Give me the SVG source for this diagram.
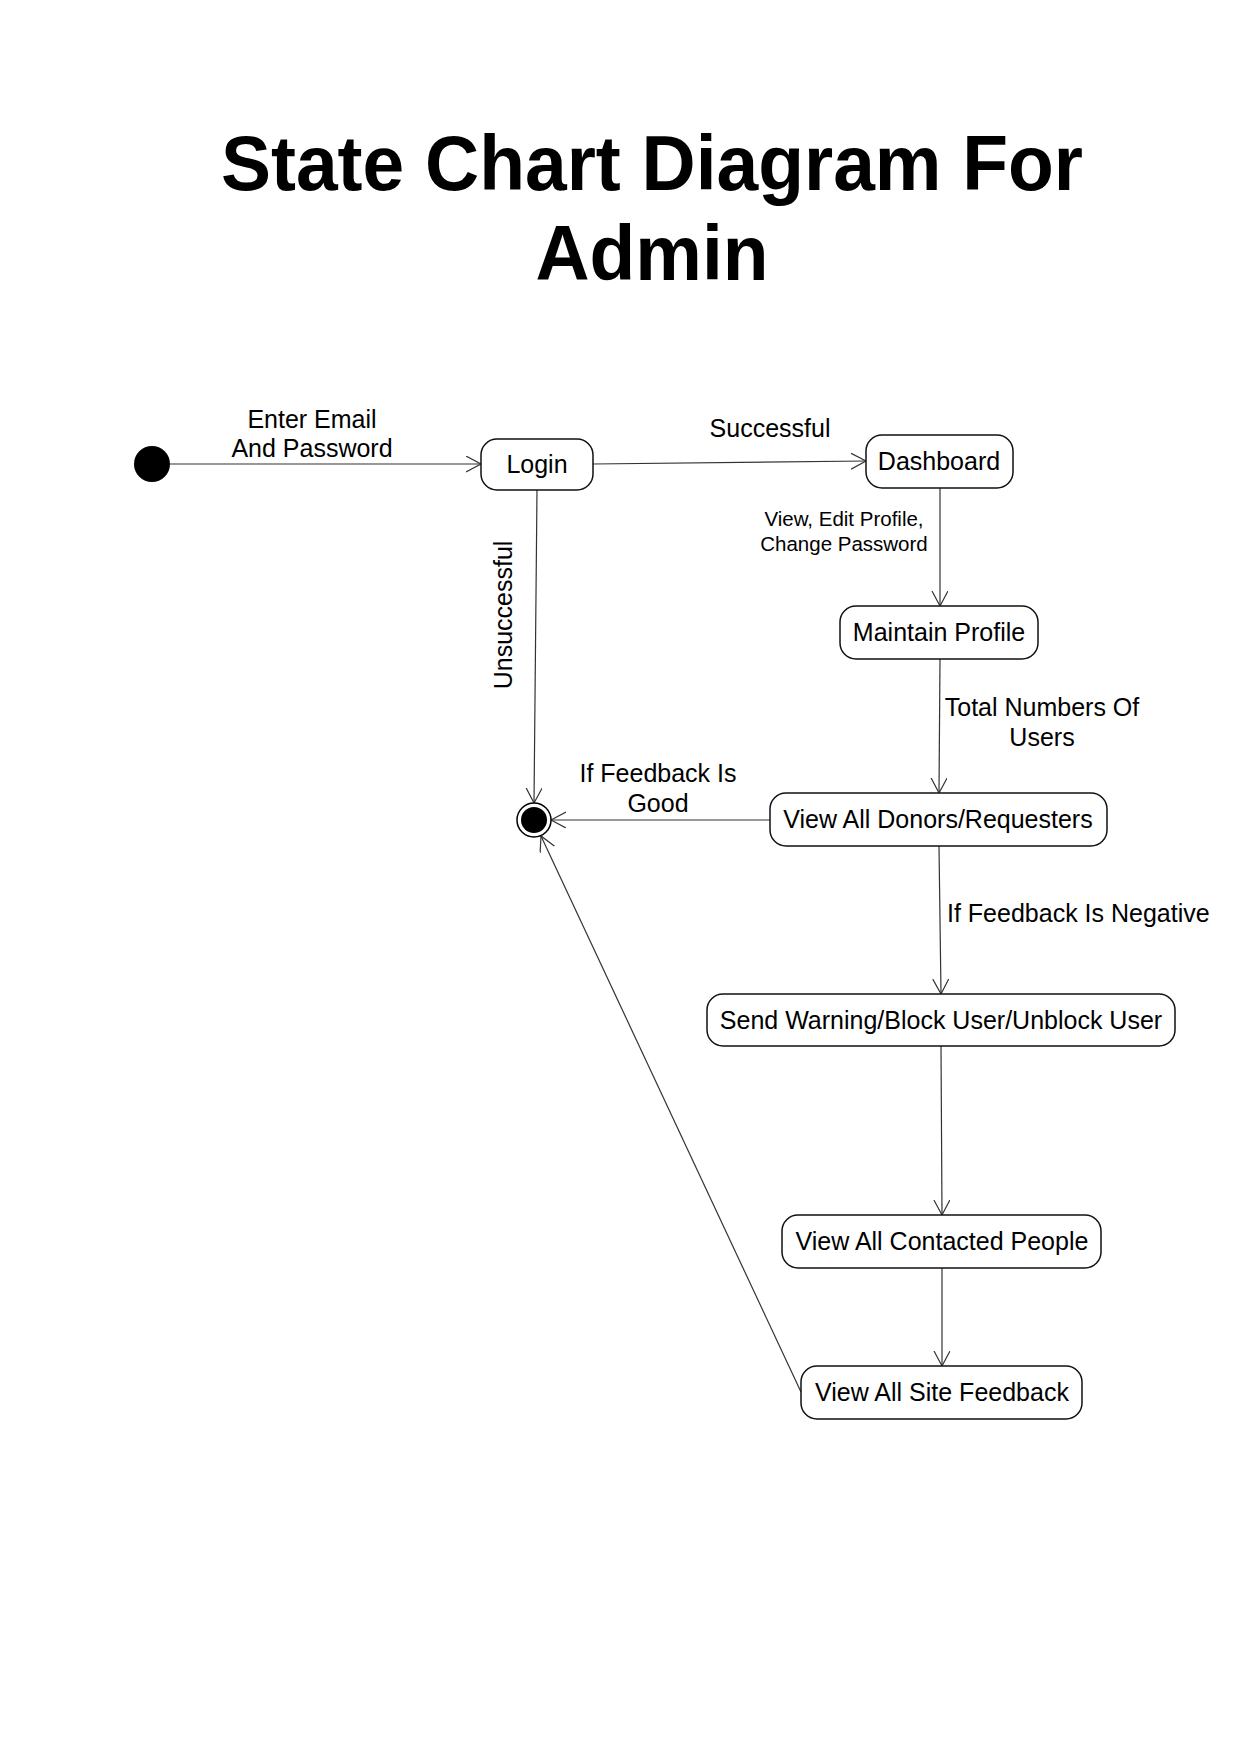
<svg xmlns="http://www.w3.org/2000/svg" width="1241" height="1755" viewBox="0 0 1241 1755">
<style>
.bg{fill:#fff}
.title{font-family:"Liberation Sans",Arial,sans-serif;font-weight:bold;font-size:78px;fill:#000;text-anchor:middle}
.state rect{fill:#fff;stroke:#111;stroke-width:1.5}
.lbl{font-family:"Liberation Sans",Arial,sans-serif;font-size:25px;fill:#000;text-anchor:middle}
.sm{font-size:20.5px}
.edge{stroke:#333;stroke-width:1.2;fill:none;marker-end:url(#arr)}
</style>
<defs>
<marker id="arr" markerUnits="userSpaceOnUse" markerWidth="20" markerHeight="20" refX="15" refY="8" orient="auto">
<path d="M0,0 L15,8 L0,16" fill="none" stroke="#333" stroke-width="1.2"/>
</marker>
</defs>
<rect class="bg" x="0" y="0" width="1241" height="1755"/>
<g id="title">
<text class="title" x="652" y="190" textLength="862" lengthAdjust="spacingAndGlyphs">State Chart Diagram For</text>
<text class="title" x="652" y="280" textLength="233" lengthAdjust="spacingAndGlyphs">Admin</text>
</g>
<g id="connectors">
<line class="edge" x1="170" y1="464" x2="481" y2="464"/>
<line class="edge" x1="593" y1="464" x2="866" y2="461"/>
<line class="edge" x1="537" y1="490" x2="534" y2="803"/>
<line class="edge" x1="940" y1="488" x2="940" y2="606"/>
<line class="edge" x1="940" y1="659" x2="939" y2="793"/>
<line class="edge" x1="770" y1="820" x2="551" y2="820"/>
<line class="edge" x1="939" y1="846" x2="941" y2="994"/>
<line class="edge" x1="941" y1="1046" x2="942" y2="1215"/>
<line class="edge" x1="942" y1="1268" x2="942" y2="1366"/>
<line class="edge" x1="801" y1="1392" x2="541" y2="836"/>
<g id="edge-labels">
<text class="lbl" x="312" y="428">Enter Email</text>
<text class="lbl" x="312" y="457">And Password</text>
<text class="lbl" x="770" y="437">Successful</text>
<text class="lbl" transform="translate(512,615) rotate(-90)">Unsuccessful</text>
<text class="lbl sm" x="844" y="526">View, Edit Profile,</text>
<text class="lbl sm" x="844" y="551">Change Password</text>
<text class="lbl" x="1042" y="716">Total Numbers Of</text>
<text class="lbl" x="1042" y="746">Users</text>
<text class="lbl" x="658" y="782">If Feedback Is</text>
<text class="lbl" x="658" y="812">Good</text>
<text class="lbl" x="947" y="922" style="text-anchor:start">If Feedback Is Negative</text>
</g>
</g>
<g id="initial"><circle cx="152" cy="464" r="18" fill="#000"/></g>
<g id="final">
<circle cx="534" cy="820" r="17" fill="#fff" stroke="#000" stroke-width="1.5"/>
<circle cx="534" cy="820" r="13" fill="#000"/>
</g>
<g id="login" class="state"><rect x="481" y="439" width="112" height="51" rx="16"/><text class="lbl" x="537" y="473">Login</text></g>
<g id="dashboard" class="state"><rect x="866" y="435" width="147" height="53" rx="16"/><text class="lbl" x="939" y="470">Dashboard</text></g>
<g id="maintain-profile" class="state"><rect x="840" y="606" width="198" height="53" rx="16"/><text class="lbl" x="939" y="641">Maintain Profile</text></g>
<g id="view-donors" class="state"><rect x="770" y="793" width="337" height="53" rx="16"/><text class="lbl" x="938" y="828">View All Donors/Requesters</text></g>
<g id="send-warning" class="state"><rect x="707" y="994" width="468" height="52" rx="16"/><text class="lbl" x="941" y="1029">Send Warning/Block User/Unblock User</text></g>
<g id="view-contacted" class="state"><rect x="782" y="1215" width="319" height="53" rx="16"/><text class="lbl" x="942" y="1250">View All Contacted People</text></g>
<g id="view-feedback" class="state"><rect x="801" y="1366" width="281" height="53" rx="16"/><text class="lbl" x="942" y="1401">View All Site Feedback</text></g>
</svg>
